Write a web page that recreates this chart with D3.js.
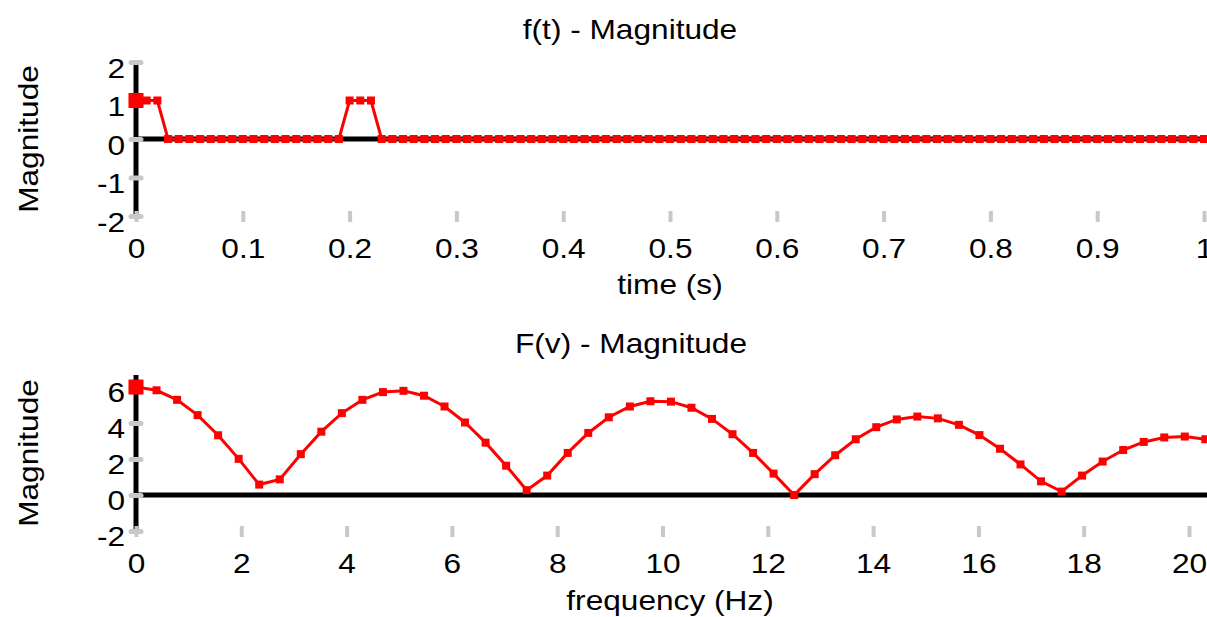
<!DOCTYPE html>
<html>
<head>
<meta charset="utf-8">
<script src="https://cdn.jsdelivr.net/npm/d3@7"></script>
<style>
body { margin: 0; background: #fff; }
svg { display: block; }
text { font-family: "Liberation Sans", Arial, sans-serif; font-size: 28px; fill: #000; }
</style>
</head>
<body>
<svg width="1207" height="617"></svg>
<script>
// f(t): sampled signal, dt = 0.01 s
const timeValues = [
  0, 0.01, 0.02, 0.03, 0.04, 0.05, 0.06, 0.07, 0.08, 0.09,
  0.1, 0.11, 0.12, 0.13, 0.14, 0.15, 0.16, 0.17, 0.18, 0.19,
  0.2, 0.21, 0.22, 0.23, 0.24, 0.25, 0.26, 0.27, 0.28, 0.29,
  0.3, 0.31, 0.32, 0.33, 0.34, 0.35, 0.36, 0.37, 0.38, 0.39,
  0.4, 0.41, 0.42, 0.43, 0.44, 0.45, 0.46, 0.47, 0.48, 0.49,
  0.5, 0.51, 0.52, 0.53, 0.54, 0.55, 0.56, 0.57, 0.58, 0.59,
  0.6, 0.61, 0.62, 0.63, 0.64, 0.65, 0.66, 0.67, 0.68, 0.69,
  0.7, 0.71, 0.72, 0.73, 0.74, 0.75, 0.76, 0.77, 0.78, 0.79,
  0.8, 0.81, 0.82, 0.83, 0.84, 0.85, 0.86, 0.87, 0.88, 0.89,
  0.9, 0.91, 0.92, 0.93, 0.94, 0.95, 0.96, 0.97, 0.98, 0.99,
  1, 1.01
];
const timeMagnitude = [
  1, 1, 1, 0, 0, 0, 0, 0, 0, 0,
  0, 0, 0, 0, 0, 0, 0, 0, 0, 0,
  1, 1, 1, 0, 0, 0, 0, 0, 0, 0,
  0, 0, 0, 0, 0, 0, 0, 0, 0, 0,
  0, 0, 0, 0, 0, 0, 0, 0, 0, 0,
  0, 0, 0, 0, 0, 0, 0, 0, 0, 0,
  0, 0, 0, 0, 0, 0, 0, 0, 0, 0,
  0, 0, 0, 0, 0, 0, 0, 0, 0, 0,
  0, 0, 0, 0, 0, 0, 0, 0, 0, 0,
  0, 0, 0, 0, 0, 0, 0, 0, 0, 0,
  0, 0
];

// F(v): spectrum magnitude
const freqValues = [
  0, 0.39, 0.78, 1.17, 1.56, 1.95, 2.34, 2.73, 3.13, 3.52,
  3.91, 4.3, 4.69, 5.08, 5.47, 5.86, 6.25, 6.64, 7.03, 7.42,
  7.81, 8.2, 8.59, 8.98, 9.38, 9.77, 10.16, 10.55, 10.94, 11.33,
  11.72, 12.11, 12.5, 12.89, 13.28, 13.67, 14.06, 14.45, 14.84, 15.23,
  15.63, 16.02, 16.41, 16.8, 17.19, 17.58, 17.97, 18.36, 18.75, 19.14,
  19.53, 19.92, 20.31, 20.7
];
const freqMagnitude = [
  6, 5.82, 5.29, 4.44, 3.32, 2.01, 0.58, 0.87, 2.27, 3.52,
  4.55, 5.29, 5.72, 5.79, 5.52, 4.92, 4.03, 2.91, 1.63, 0.27,
  1.08, 2.34, 3.45, 4.32, 4.92, 5.21, 5.19, 4.85, 4.23, 3.38,
  2.34, 1.19, 0, 1.16, 2.21, 3.1, 3.77, 4.2, 4.36, 4.26,
  3.9, 3.33, 2.57, 1.7, 0.76, 0.19, 1.08, 1.86, 2.5, 2.95,
  3.2, 3.25, 3.1, 2.77
];

const timeTicks = [0, 0.1, 0.2, 0.3, 0.4, 0.5, 0.6, 0.7, 0.8, 0.9, 1];
const timeTickLabels = ['0', '0.1', '0.2', '0.3', '0.4', '0.5', '0.6', '0.7', '0.8', '0.9', '1'];
const freqTicks = [0, 2, 4, 6, 8, 10, 12, 14, 16, 18, 20];
const freqTickLabels = ['0', '2', '4', '6', '8', '10', '12', '14', '16', '18', '20'];
const topMagTicks = [-2, -1, 0, 1, 2];
const topMagTickLabels = ['-2', '-1', '0', '1', '2'];
const bottomMagTicks = [-2, 0, 2, 4, 6];
const bottomMagTickLabels = ['-2', '0', '2', '4', '6'];

const W = 1207;
const stretch = 1.13;   // reference font is wider than Arial
const red = '#ff0000';
const grey = '#c8c8c8';

const svg = d3.select('svg');

function label(x, y, str, rot) {
  let t = `translate(${x},${y})`;
  if (rot) t += ` rotate(${rot})`;
  t += ` scale(${stretch},1)`;
  svg.append('text')
    .attr('transform', t)
    .attr('text-anchor', 'middle')
    .text(str);
}

function panel(p) {
  const x = d3.scaleLinear().domain(p.xDomain).range(p.xRange);
  const y = d3.scaleLinear().domain(p.yDomain).range(p.yRange);
  const g = svg.append('g');

  // zero line + vertical axis
  g.append('line')
    .attr('x1', x(0)).attr('x2', W)
    .attr('y1', y(0)).attr('y2', y(0))
    .attr('stroke', '#000').attr('stroke-width', 5);
  g.append('line')
    .attr('x1', x(0)).attr('x2', x(0))
    .attr('y1', y(p.yDomain[1])).attr('y2', y(p.yDomain[0]))
    .attr('stroke', '#000').attr('stroke-width', 5);

  // x axis: grey tick marks at the bottom edge
  const xAxis = g.append('g')
    .attr('transform', `translate(0,${y(p.yDomain[0]) - 5})`)
    .call(d3.axisBottom(x)
      .tickValues(p.xTicks)
      .tickSize(11)
      .tickPadding(16)
      .tickFormat((d, i) => p.xTickLabels[i]));
  xAxis.select('.domain').remove();
  xAxis.selectAll('line').attr('stroke', grey).attr('stroke-width', 4);
  xAxis.selectAll('text')
    .attr('transform', `scale(${stretch},1)`);
  xAxis.attr('font-size', null).attr('font-family', null);

  // y axis: grey marks sitting on the black axis
  const yAxis = g.append('g')
    .attr('transform', `translate(${x(0) + 5},0)`)
    .call(d3.axisLeft(y)
      .tickValues(p.yTicks)
      .tickSize(10)
      .tickPadding(6)
      .tickFormat((d, i) => p.yTickLabels[i]));
  yAxis.select('.domain').remove();
  yAxis.selectAll('line').attr('stroke', grey).attr('stroke-width', 5).attr('stroke-linecap', 'round');
  yAxis.selectAll('text')
    .attr('dy', p.yLabelDy)
    .attr('x', -16 / stretch)
    .attr('transform', `scale(${stretch},1)`);
  yAxis.attr('font-size', null).attr('font-family', null);

  // series
  const line = d3.line()
    .x((d, i) => x(p.xs[i]))
    .y(d => y(d));
  g.append('path')
    .datum(p.ys)
    .attr('fill', 'none')
    .attr('stroke', red)
    .attr('stroke-width', 3)
    .attr('d', line);

  g.selectAll('rect.pt')
    .data(p.ys)
    .join('rect')
    .attr('class', 'pt')
    .attr('fill', red)
    .attr('width', (d, i) => i === 0 ? 15 : 8)
    .attr('height', (d, i) => i === 0 ? 15 : 8)
    .attr('x', (d, i) => x(p.xs[i]) - (i === 0 ? 7.5 : 4))
    .attr('y', (d, i) => y(d) - (i === 0 ? 7.5 : 4));

  label(p.titleX, p.titleY, p.title);
  label((p.xRange[0] + 1204) / 2, p.xLabelY, p.xLabel);
  label(38, (p.yRange[0] + p.yRange[1]) / 2, 'Magnitude', -90);
}

panel({
  xs: timeValues, ys: timeMagnitude,
  xDomain: [0, 1], xRange: [136, 1204],
  yDomain: [-2, 2], yRange: [216, 62],
  xTicks: timeTicks, xTickLabels: timeTickLabels,
  yTicks: topMagTicks, yTickLabels: topMagTickLabels,
  yLabelDy: '0.55em',
  title: 'f(t) - Magnitude', titleX: 630, titleY: 39,
  xLabel: 'time (s)', xLabelY: 294
});

panel({
  xs: freqValues, ys: freqMagnitude,
  xDomain: [0, 20], xRange: [136, 1189],
  yDomain: [-2, 6.67], yRange: [531, 375],
  xTicks: freqTicks, xTickLabels: freqTickLabels,
  yTicks: bottomMagTicks, yTickLabels: bottomMagTickLabels,
  yLabelDy: '0.5em',
  title: 'F(v) - Magnitude', titleX: 631, titleY: 353,
  xLabel: 'frequency (Hz)', xLabelY: 610
});
</script>
</body>
</html>
